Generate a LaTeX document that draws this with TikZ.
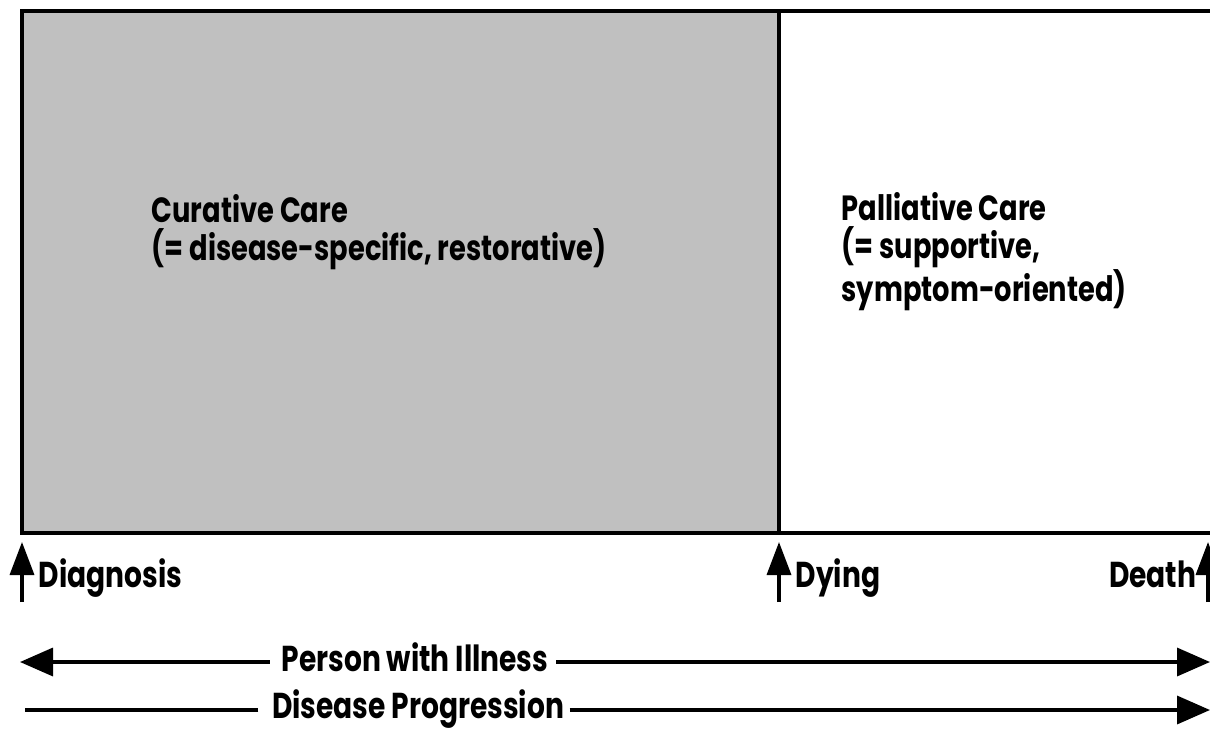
\documentclass[tikz,border=0pt]{standalone}
\usepackage{fontspec}
\setmainfont{Poppins}[FakeStretch=0.78]
\usetikzlibrary{arrows.meta}
\definecolor{curgray}{RGB}{192,192,192}
\begin{document}
\begin{tikzpicture}[x=1pt,y=-1pt,line width=3.5pt,
  body/.style={font=\fontsize{35}{38}\selectfont\bfseries,inner sep=0pt,align=left},
  marklbl/.style={font=\fontsize{36}{44}\selectfont\bfseries,inner sep=0pt},
  axislbl/.style={font=\fontsize{36}{40}\selectfont\bfseries,inner sep=0pt},
  uptip/.style={-{Triangle[length=33pt,width=24pt]}},
  sidetip/.style={-{Triangle[length=33pt,width=28pt]}}]
\useasboundingbox (0,0) rectangle (1210,729);
% boxes
\fill[curgray] (22,11) rectangle (779,533);
\coordinate (tl) at (22,11);
\coordinate (tr) at (1212,11);
\coordinate (bl) at (22,533);
\coordinate (br) at (1212,533);
\coordinate (dt) at (779,11);
\coordinate (db) at (779,533);
\draw (tr) -- (tl) -- (bl) -- (br);
\draw (dt) -- (db);
% texts in boxes
\node[body,anchor=north west] (cur) at (150,193) {Curative Care\\(= disease-specific, restorative)};
\node[body,anchor=north west] (pal) at (840,191) {Palliative Care\\(= supportive,\\symptom-oriented)};
% vertical markers
\coordinate (d0) at (22,602); \coordinate (d1) at (22,542);
\coordinate (y0) at (779,602); \coordinate (y1) at (779,542);
\coordinate (e0) at (1208,602); \coordinate (e1) at (1208,542);
\draw[uptip] (d0) -- (d1);
\draw[uptip] (y0) -- (y1);
\draw[uptip] (e0) -- (e1);
\node[marklbl,anchor=base west] (diag) at (37,587) {Diagnosis};
\node[marklbl,anchor=base west] (dying) at (794,587) {Dying};
\node[marklbl,anchor=base east] (death) at (1198,587) {Death};
% bottom axes
\node[axislbl,anchor=base] (pwi) at (415,671) {Person with Illness};
\node[axislbl,anchor=base] (dp) at (418,718) {Disease Progression};
\coordinate (pl) at (20,662); \coordinate (pr) at (1210,662);
\coordinate (ql) at (25,710); \coordinate (qr) at (1210,710);
\draw[sidetip] (pwi.west |- pl) ++(-10,0) -- (pl);
\draw[sidetip] (pwi.east |- pr) ++(6,0) -- (pr);
\draw (dp.west |- ql) ++(-12,0) -- (ql);
\draw[sidetip] (dp.east |- qr) ++(4,0) -- (qr);
\end{tikzpicture}
\end{document}
